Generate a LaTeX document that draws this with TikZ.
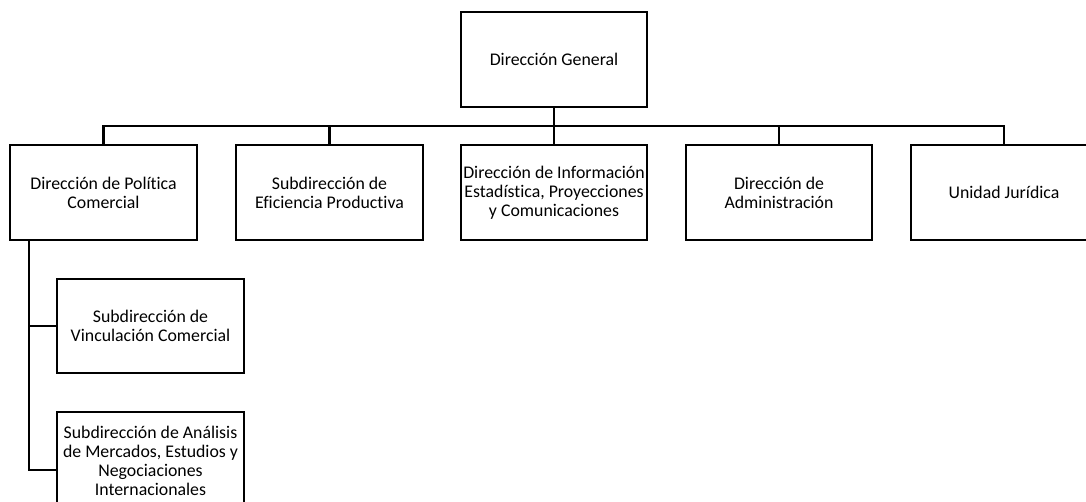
\documentclass[tikz,border=0pt]{standalone}
\usepackage{fontspec}
\setmainfont{Carlito}[Ligatures=NoCommon]
\begin{document}
\begin{tikzpicture}[x=1pt,y=-1pt,
  box/.style={draw=black, line width=2.8pt, fill=white, align=center, inner sep=0pt,
    font=\fontsize{17.8}{18.8}\selectfont},
  wire/.style={draw=black, line width=2.8pt}]
\useasboundingbox (0,0) rectangle (1086,502);
\clip (0,0) rectangle (1086,502);
\fill[white] (0,0) rectangle (1086,502);
\coordinate (bus) at (0,126);
\coordinate (j1) at (29,326);
\coordinate (j2) at (29,470);
\node[box, minimum width=186pt, minimum height=95pt] (dg) at (554,59.5) {Dirección General};
\node[box, minimum width=187pt, minimum height=95pt] (b1) at (103.5,192.5) {Dirección de Política\\Comercial};
\node[box, minimum width=187pt, minimum height=95pt] (b2) at (329.5,192.5) {Subdirección de\\Eficiencia Productiva};
\node[box, minimum width=186pt, minimum height=95pt] (b3) at (554,192.5) {Dirección de Información\\Estadística, Proyecciones\\y Comunicaciones};
\node[box, minimum width=186pt, minimum height=95pt] (b4) at (779,192.5) {Dirección de\\Administración};
\node[box, minimum width=186pt, minimum height=95pt] (b5) at (1004,192.5) {Unidad Jurídica};
\node[box, minimum width=187pt, minimum height=94pt] (s1) at (150.5,326) {Subdirección de\\Vinculación Comercial};
\node[box, minimum width=187pt, minimum height=98pt] (s2) at (150.5,461) {Subdirección de Análisis\\de Mercados, Estudios y\\Negociaciones\\Internacionales};
\draw[wire] (dg.south) -- (b3.north);
\draw[wire] (b1.north) -- (b1.north |- bus) -- (b5.north |- bus) -- (b5.north);
\draw[wire] (b2.north) -- (b2.north |- bus);
\draw[wire] (b4.north) -- (b4.north |- bus);
\draw[wire] (b1.south -| j1) -- (j2) -- (j2 -| s2.west);
\draw[wire] (j1) -- (s1.west);
\end{tikzpicture}
\end{document}
